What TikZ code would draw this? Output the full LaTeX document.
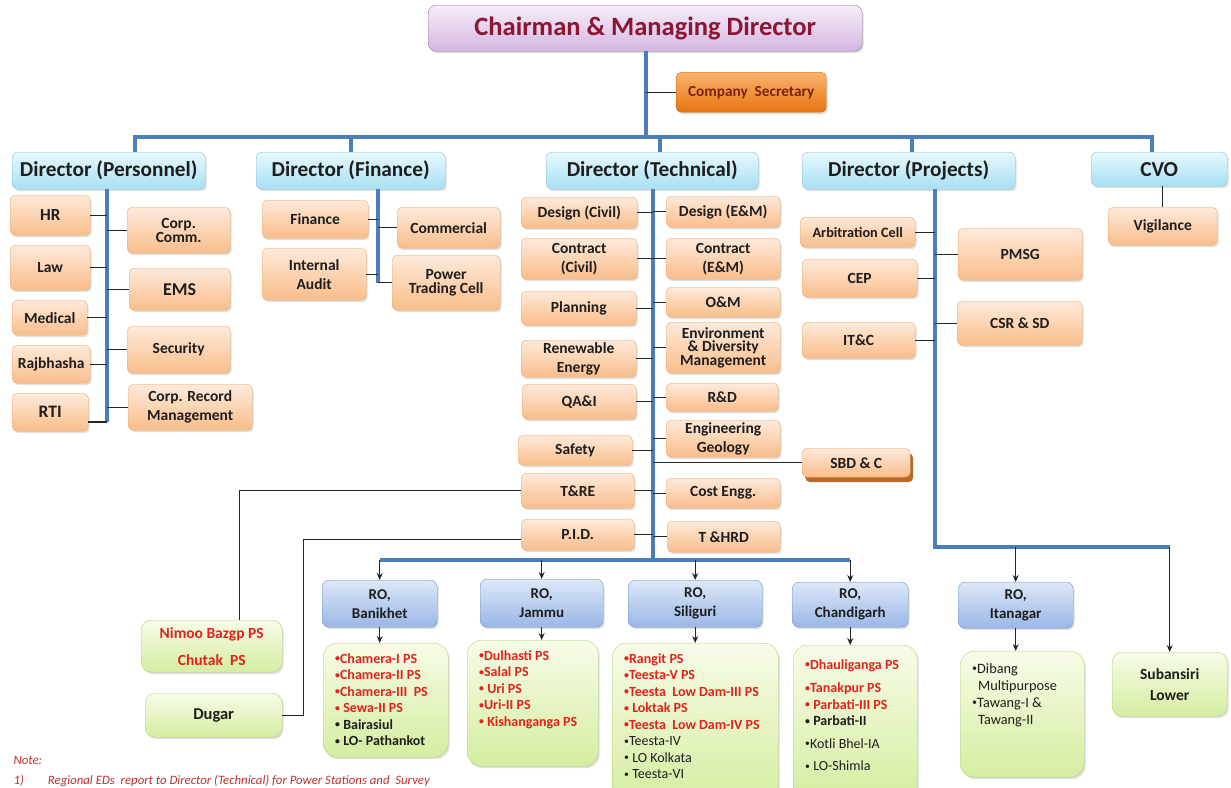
\documentclass[tikz,border=0pt]{standalone}
\usepackage{fontspec}
\usepackage{graphicx}
\setmainfont{Carlito}
\usetikzlibrary{arrows.meta,shadows}

\definecolor{busblue}{HTML}{4A7EBB}
\definecolor{cmdtop}{HTML}{F6EEF9}
\definecolor{cmdbot}{HTML}{D4B5E2}
\definecolor{cmdline}{HTML}{8E7A9A}
\definecolor{cmdred}{HTML}{8C1530}
\definecolor{secytop}{HTML}{FAB46E}
\definecolor{secybot}{HTML}{E8730F}
\definecolor{secyline}{HTML}{C8640E}
\definecolor{secytext}{HTML}{7A2410}
\definecolor{dirtop}{HTML}{E8F8FD}
\definecolor{dirbot}{HTML}{A6E0F3}
\definecolor{dirline}{HTML}{86C5DA}
\definecolor{unittop}{HTML}{FEEADB}
\definecolor{unitbot}{HTML}{F9BD8A}
\definecolor{unitline}{HTML}{F0A868}
\definecolor{rotop}{HTML}{DDE8F8}
\definecolor{robot}{HTML}{9AB7E6}
\definecolor{roline}{HTML}{6A8FC8}
\definecolor{planttop}{HTML}{F7FCE8}
\definecolor{plantbot}{HTML}{D5EDA0}
\definecolor{plantline}{HTML}{B0D27C}
\definecolor{psred}{HTML}{E3221C}
\definecolor{boxtext}{HTML}{1E1E1E}
\definecolor{notered}{HTML}{C0302C}
\definecolor{sbdshade}{HTML}{B8682A}

\newcommand{\plantlist}[3]{\parbox[c][#2][t]{#1}{\raggedright #3}}
\newcommand{\psb}{\raisebox{0.2ex}{\scalebox{0.7}{\textbullet}}}

\tikzset{
  boxsize/.style 2 args={minimum width=#1pt, minimum height=#2pt},
  box/.style={draw, anchor=north west, inner sep=0pt, align=center, text=boxtext,
    font=\bfseries\fontsize{15.5}{19}\selectfont},
  softshadow/.style={drop shadow={opacity=0.25, shadow xshift=1.5pt, shadow yshift=-2pt}},
  chief/.style={box, softshadow, rounded corners=8pt, top color=cmdtop, bottom color=cmdbot,
    draw=cmdline, text=cmdred, font=\bfseries\fontsize{26.5}{28}\selectfont},
  secy/.style={box, softshadow, rounded corners=5pt, top color=secytop, bottom color=secybot,
    draw=secyline, text=secytext, font=\bfseries\fontsize{15.3}{16}\selectfont},
  director/.style={box, softshadow, rounded corners=6pt, top color=dirtop, bottom color=dirbot,
    draw=dirline, font=\bfseries\fontsize{21.3}{23}\selectfont},
  unitface/.style={box, rounded corners=5pt, top color=unittop, bottom color=unitbot, draw=unitline},
  unit/.style={unitface, softshadow},
  ro/.style={box, softshadow, rounded corners=7pt, top color=rotop, bottom color=robot, draw=roline,
    font=\bfseries\fontsize{15}{19}\selectfont},
  plant/.style={box, softshadow, rounded corners=10pt, top color=planttop, bottom color=plantbot,
    draw=plantline},
  pslist/.style={plant, rounded corners=14pt, inner xsep=12pt, inner ysep=10pt, align=left,
    font=\bfseries\fontsize{14}{16.5}\selectfont},
  busline/.style={line width=3.5pt, draw=busblue},
  link/.style={line width=1.1pt, draw=black!85},
  feed/.style={link, -{Stealth[length=7pt,width=6pt]}},
  note/.style={anchor=west, text=notered, font=\itshape\fontsize{12.8}{14}\selectfont}
}

\begin{document}
\begin{tikzpicture}[x=1pt, y=-1pt]
\useasboundingbox (0,0) rectangle (1231,787);
\clip (0,0) rectangle (1231,787);

% top level
\node[chief, boxsize={434}{46}] (cmd) at (428,5) {Chairman \& Managing Director};
\node[secy, boxsize={150}{40}] (cs) at (676,72) {Company\ \ Secretary};

\node[director, boxsize={193}{37}] (dirP) at (12,152) {Director (Personnel)};
\node[director, boxsize={189}{37}] (dirF) at (256,152) {Director (Finance)};
\node[director, boxsize={212}{37}] (dirT) at (546,152) {Director (Technical)};
\node[director, boxsize={213}{37}] (dirPr) at (802,152) {Director (Projects)};
\node[director, boxsize={136}{34}] (cvo) at (1091,152) {CVO};

% personnel
\node[unit, boxsize={80}{40}, font=\bfseries\fontsize{17}{19}\selectfont] (hr) at (10,195) {HR};
\node[unit, boxsize={80}{45}] (law) at (10,245) {Law};
\node[unit, boxsize={75}{35}] (medical) at (12,300) {Medical};
\node[unit, boxsize={78}{38}] (rajbhasha) at (12,345) {Rajbhasha};
\node[unit, boxsize={76}{38}, font=\bfseries\fontsize{17.5}{19}\selectfont] (rti) at (12,393) {RTI};
\node[unit, boxsize={103}{46}, font=\bfseries\fontsize{15.5}{14}\selectfont] (corpcomm) at (127,207) {Corp.\\Comm.};
\node[unit, boxsize={101}{42}, font=\bfseries\fontsize{18}{19}\selectfont] (ems) at (129,268) {EMS};
\node[unit, boxsize={103}{47}] (security) at (127,326) {Security};
\node[unit, boxsize={124}{46}] (corprec) at (128,384) {Corp. Record\\Management};

% finance
\node[unit, boxsize={106}{38}] (finance) at (262,200) {Finance};
\node[unit, boxsize={104}{52}] (audit) at (262,248) {Internal\\Audit};
\node[unit, boxsize={103}{41}] (commercial) at (397,207) {Commercial};
\node[unit, boxsize={108}{55}, font=\bfseries\fontsize{15.5}{14}\selectfont] (ptc) at (392,255) {Power\\Trading Cell};

% technical
\node[unit, boxsize={116}{31}] (dcivil) at (521,197) {Design (Civil)};
\node[unit, boxsize={116}{41}] (ccivil) at (521,238) {Contract\\(Civil)};
\node[unit, boxsize={115}{34}] (planning) at (521,291) {Planning};
\node[unit, boxsize={115}{37}] (renew) at (521,340) {Renewable\\Energy};
\node[unit, boxsize={114}{35}] (qai) at (522,384) {QA\&I};
\node[unit, boxsize={114}{30}] (safety) at (518,435) {Safety};
\node[unit, boxsize={113}{35}] (tre) at (521,473) {T\&RE};
\node[unit, boxsize={113}{31}] (pid) at (521,519) {P.I.D.};
\node[unit, boxsize={114}{31}] (dem) at (666,196) {Design (E\&M)};
\node[unit, boxsize={114}{41}] (cem) at (666,238) {Contract\\(E\&M)};
\node[unit, boxsize={114}{30}] (om) at (666,287) {O\&M};
\node[unit, boxsize={114}{51}, font=\bfseries\fontsize{15.5}{13.5}\selectfont] (env) at (666,322) {Environment\\\& Diversity\\Management};
\node[unit, boxsize={112}{28}] (rd) at (666,383) {R\&D};
\node[unit, boxsize={114}{37}] (geology) at (666,420) {Engineering\\Geology};
\node[unit, boxsize={114}{30}] (costengg) at (666,478) {Cost Engg.};
\node[unit, boxsize={113}{31}] (thrd) at (667,521) {T \&HRD};
\node[unitface, boxsize={108}{29}, drop shadow={fill=sbdshade, opacity=1, shadow xshift=3pt, shadow yshift=-5pt}] (sbd) at (802,448) {SBD \& C};

% projects and cvo
\node[unit, boxsize={115}{30}, font=\bfseries\fontsize{14.3}{16}\selectfont] (arb) at (800,217) {Arbitration Cell};
\node[unit, boxsize={115}{38}] (cep) at (802,259) {CEP};
\node[unit, boxsize={113}{36}] (itc) at (802,322) {IT\&C};
\node[unit, boxsize={124}{52}] (pmsg) at (958,228) {PMSG};
\node[unit, boxsize={125}{44}] (csr) at (957,301) {CSR \& SD};
\node[unit, boxsize={109}{38}] (vigil) at (1108,207) {Vigilance};

% regional offices
\node[ro, boxsize={115}{47}] (robk) at (322,580) {RO,\\Banikhet};
\node[ro, boxsize={123}{48}] (rojm) at (480,579) {RO,\\Jammu};
\node[ro, boxsize={134}{47}] (rosg) at (628,580) {RO,\\Siliguri};
\node[ro, boxsize={116}{45}] (roch) at (792,582) {RO,\\Chandigarh};
\node[ro, boxsize={115}{46}] (roit) at (958,582) {RO,\\Itanagar};

% power stations
\node[plant, boxsize={141}{52}, text=psred, font=\bfseries\fontsize{15.5}{27}\selectfont] (nimoo) at (141,620) {Nimoo Bazgp PS\\Chutak\ \ PS};
\node[plant, boxsize={137}{44}, font=\bfseries\fontsize{16.5}{19}\selectfont] (dugar) at (145,693) {Dugar};
\node[plant, boxsize={115}{64}, font=\bfseries\fontsize{15.5}{21}\selectfont] (subansiri) at (1112,652) {Subansiri\\Lower};
\node[pslist] (psbk) at (323,643) {\plantlist{101pt}{94pt}{%
  \textcolor{psred}{\psb Chamera-I PS}\\
  \textcolor{psred}{\psb Chamera-II PS}\\
  \textcolor{psred}{\psb Chamera-III\ \ PS}\\
  \textcolor{psred}{\psb\ Sewa-II PS}\\
  \psb\ Bairasiul\\
  \psb\ LO- Pathankot}};
\node[pslist] (psjm) at (467,640) {\plantlist{107pt}{106pt}{%
  \textcolor{psred}{\psb Dulhasti PS}\\
  \textcolor{psred}{\psb Salal PS}\\
  \textcolor{psred}{\psb\ Uri PS}\\
  \textcolor{psred}{\psb Uri-II PS}\\
  \textcolor{psred}{\psb\ Kishanganga PS}}};
\node[pslist] (pssg) at (612,643) {\plantlist{142pt}{140pt}{%
  \textcolor{psred}{\psb Rangit PS}\\
  \textcolor{psred}{\psb Teesta-V PS}\\
  \textcolor{psred}{\psb Teesta\ \ Low Dam-III PS}\\
  \textcolor{psred}{\psb\ Loktak PS}\\
  \textcolor{psred}{\psb Teesta\ \ Low Dam-IV PS}\\
  \mdseries\psb Teesta-IV\\
  \psb\ LO Kolkata\\
  \psb\ Teesta-VI}};
\node[pslist] (psch) at (793,645) {\plantlist{100pt}{135pt}{%
  \vspace*{4pt}\textcolor{psred}{\psb Dhauliganga PS}\\[7pt]
  \textcolor{psred}{\psb Tanakpur PS}\\
  \textcolor{psred}{\psb\ Parbati-III PS}\\
  \psb\ Parbati-II\\[6pt]
  \mdseries\psb Kotli Bhel-IA\\[6pt]
  \psb\ LO-Shimla}};
\node[pslist, font=\fontsize{14.3}{17}\selectfont] (psit) at (960,651) {\plantlist{100pt}{106pt}{%
  \vspace*{2pt}\psb Dibang\\
  \hspace*{6pt}Multipurpose\\
  \psb Tawang-I \&\\
  \hspace*{6pt}Tawang-II}};

\node[note] (note) at (10,760) {Note:};
\node[note] (noteone) at (10,781) {1)\hspace{24pt}Regional EDs\ \ report to Director (Technical) for Power Stations and\ \ Survey};

% blue trunk lines
\coordinate (cmdbus) at (646,137);
\coordinate (pdrop) at (135,137);
\coordinate (fdrop) at (351,137);
\coordinate (tdrop) at (660,137);
\coordinate (prdrop) at (912,137);
\coordinate (cvodrop) at (1152,137);
\draw[busline] (cmd.south -| cmdbus) -- (cmdbus);
\draw[busline] (dirP.north -| pdrop) -- (pdrop) -- (cvodrop) -- (cvo.north -| cvodrop);
\draw[busline] (fdrop) -- (dirF.north -| fdrop);
\draw[busline] (tdrop) -- (dirT.north -| tdrop);
\draw[busline] (prdrop) -- (dirPr.north -| prdrop);
\draw[link] (cs.west -| cmdbus) -- (cs.west);

\coordinate (pline) at (107,422);
\coordinate (fline) at (378,283);
\coordinate (tline) at (653,560);
\coordinate (prline) at (935,547);
\draw[busline] (dirP.south -| pline) -- (pline);
\draw[busline] (dirF.south -| fline) -- (fline);
\draw[busline] (dirT.south -| tline) -- (tline);
\draw[busline] (robk.north |- tline) -- (roch.north |- tline);
\draw[busline] (dirPr.south -| prline) -- (prline) -- (subansiri.north |- prline);

% personnel links
\draw[link] (hr.east) -- (hr.east -| pline);
\draw[link] (law.east) -- (law.east -| pline);
\draw[link] (medical.east) -- (medical.east -| pline);
\draw[link] (rajbhasha.east) -- (rajbhasha.east -| pline);
\draw[link] (rti.east |- pline) -- (pline);
\draw[link] (corpcomm.west) -- (corpcomm.west -| pline);
\draw[link] (ems.west) -- (ems.west -| pline);
\draw[link] (security.west) -- (security.west -| pline);
\draw[link] (corprec.west) -- (corprec.west -| pline);

% finance links
\draw[link] (finance.east) -- (finance.east -| fline);
\draw[link] (audit.east) -- (audit.east -| fline);
\draw[link] (commercial.west) -- (commercial.west -| fline);
\draw[link] (ptc.west) -- (ptc.west -| fline);

% technical links
\draw[link] (dcivil.east) -- (dcivil.east -| tline);
\draw[link] (ccivil.east) -- (ccivil.east -| tline);
\draw[link] (planning.east) -- (planning.east -| tline);
\draw[link] (renew.east) -- (renew.east -| tline);
\draw[link] (qai.east) -- (qai.east -| tline);
\draw[link] (safety.east) -- (safety.east -| tline);
\draw[link] (tre.east) -- (tre.east -| tline);
\draw[link] (pid.east) -- (pid.east -| tline);
\draw[link] (dem.west) -- (dem.west -| tline);
\draw[link] (cem.west) -- (cem.west -| tline);
\draw[link] (om.west) -- (om.west -| tline);
\draw[link] (env.west) -- (env.west -| tline);
\draw[link] (rd.west) -- (rd.west -| tline);
\draw[link] (geology.west) -- (geology.west -| tline);
\draw[link] (costengg.west) -- (costengg.west -| tline);
\draw[link] (thrd.west) -- (thrd.west -| tline);
\draw[link] (sbd.west -| tline) -- (sbd.west);
\draw[link] (tre.west) -| ([xshift=28pt]nimoo.north);
\draw[link] ([yshift=-5pt]pid.west) -| ([xshift=21pt]dugar.east) -- (dugar.east);

% projects links
\draw[link] (arb.east) -- (arb.east -| prline);
\draw[link] (cep.east) -- (cep.east -| prline);
\draw[link] (itc.east) -- (itc.east -| prline);
\draw[link] (pmsg.west) -- (pmsg.west -| prline);
\draw[link] (csr.west) -- (csr.west -| prline);
\draw[link] (cvo.south -| vigil.north) -- (vigil.north);

% arrows to regional offices
\draw[feed] (robk.north |- tline) -- (robk.north);
\draw[feed] (rojm.north |- tline) -- (rojm.north);
\draw[feed] (rosg.north |- tline) -- (rosg.north);
\draw[feed] (roch.north |- tline) -- (roch.north);
\draw[feed] (roit.north |- prline) -- (roit.north);
\draw[feed] (subansiri.north |- prline) -- (subansiri.north);
\draw[feed] (robk.south) -- (robk.south |- psbk.north);
\draw[feed] (rojm.south) -- (rojm.south |- psjm.north);
\draw[feed] (rosg.south) -- (rosg.south |- pssg.north);
\draw[feed] (roch.south) -- (roch.south |- psch.north);
\draw[feed] (roit.south) -- (roit.south |- psit.north);
\end{tikzpicture}
\end{document}
